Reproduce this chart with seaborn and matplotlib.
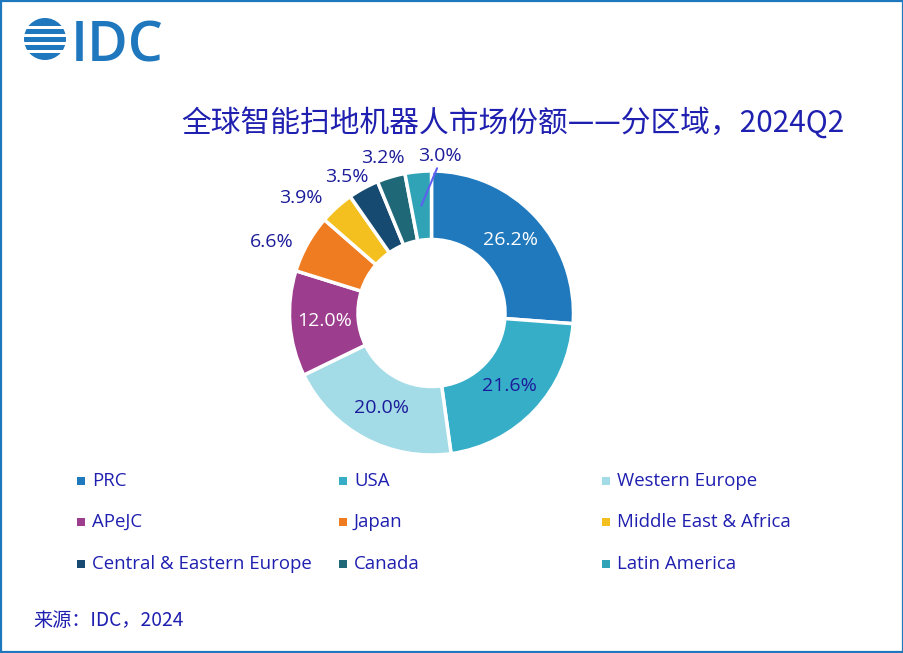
import numpy as np
import matplotlib.pyplot as plt
import seaborn as sns
from matplotlib.patches import Circle, Rectangle

# data
regions = ["PRC", "USA", "Western Europe", "APeJC", "Japan", "Middle East & Africa",
           "Central & Eastern Europe", "Canada", "Latin America"]
shares = [26.2, 21.6, 20.0, 12.0, 6.6, 3.9, 3.5, 3.2, 3.0]
colors = ["#2079bd", "#37aec8", "#a3dbe6", "#9c3d8e", "#f07c22",
          "#f4c020", "#164a70", "#1f6878", "#30a3b6"]
title = "全球智能扫地机器人市场份额——分区域，2024Q2"
source = "来源：IDC，2024"

# which labels sit inside the ring, and their colour
inside = [True, True, True, True, False, False, False, False, False]
white_txt = [True, False, False, True, False, False, False, False, False]
# angle nudge (deg) and radius factor for labels outside the ring
out_nudge = [0, 0, 0, 0, 5.0, 6.7, 3.1, 0.8, -8.5]
out_r = [0, 0, 0, 0, 1.23, 1.23, 1.13, 1.14, 1.11]

sns.set_theme(style="white")
plt.rcParams["font.family"] = ["Open Sans", "Noto Sans CJK SC", "DejaVu Sans"]

NAVY = "#1c1c9a"
TXT = "#1f1fb0"
W, H = 904, 653


def py(y):
    return H - y


fig = plt.figure(figsize=(9.04, 6.53), dpi=100)
ax = fig.add_axes([0, 0, 1, 1])

cx, cy, R = 431.5, py(313), 142
wedges, _ = ax.pie(shares, colors=colors, startangle=90, counterclock=False,
                   radius=R, center=(cx, cy),
                   wedgeprops=dict(width=R - 73.5, edgecolor="white", linewidth=2.5))
ax.set_xlim(0, W)
ax.set_ylim(0, H)
ax.set_aspect("equal")
ax.axis("off")

# percentage labels
for i, w in enumerate(wedges):
    mid = np.deg2rad((w.theta1 + w.theta2) / 2)
    txt = f"{shares[i]:.1f}%"
    if inside[i]:
        r = 0.755 * R
        ax.text(cx + r * np.cos(mid), cy + r * np.sin(mid), txt, ha="center", va="center",
                fontsize=14, color="white" if white_txt[i] else NAVY)
    else:
        a = mid + np.deg2rad(out_nudge[i])
        r = out_r[i] * R
        ax.text(cx + r * np.cos(a), cy + r * np.sin(a), txt, ha="center", va="center",
                fontsize=14, color=NAVY)

# leader line for the last (thin) slice
w = wedges[-1]
mid = np.deg2rad((w.theta1 + w.theta2) / 2)
end = np.deg2rad(87.8)
ax.plot([cx + 0.76 * R * np.cos(mid), cx + 1.02 * R * np.cos(end)],
        [cy + 0.76 * R * np.sin(mid), cy + 1.02 * R * np.sin(end)],
        color="#5f5ff0", lw=1.5)

# title and source
ax.text(513, py(123), title, ha="center", va="center", fontsize=21.4, color=TXT,
        family=["Noto Sans CJK SC", "DejaVu Sans"])
ax.text(33, py(620), source, ha="left", va="center", fontsize=13.8, color=TXT,
        family=["Noto Sans CJK SC", "DejaVu Sans"])

# legend, 3 columns
col_x = [81, 343, 606]
row_y = [481, 522, 564]
for i, name in enumerate(regions):
    x, y = col_x[i % 3], py(row_y[i // 3])
    ax.scatter(x, y, marker="s", s=33, color=colors[i], linewidths=0)
    ax.text(x + 11, y, name, ha="left", va="center", fontsize=13.4, color=TXT)

# IDC logo
logo_blue = "#1f77be"
globe = Circle((45, py(39)), 21, facecolor=logo_blue, edgecolor="none")
ax.add_patch(globe)
for gy in [27.5, 35.5, 43.5, 51.5]:
    ax.add_patch(Rectangle((22, py(gy) - 1.2), 46, 2.4, facecolor="white", edgecolor="none"))
ax.text(71, py(62), "IDC", ha="left", va="baseline", fontsize=40, color=logo_blue,
        family="Open Sans", fontweight="semibold")

# frame around the figure
ax.add_patch(Rectangle((1, 1), W - 2, H - 2, fill=False, edgecolor="#1f77be",
                       lw=1.6, clip_on=False))

fig.savefig("out.png", dpi=100)
